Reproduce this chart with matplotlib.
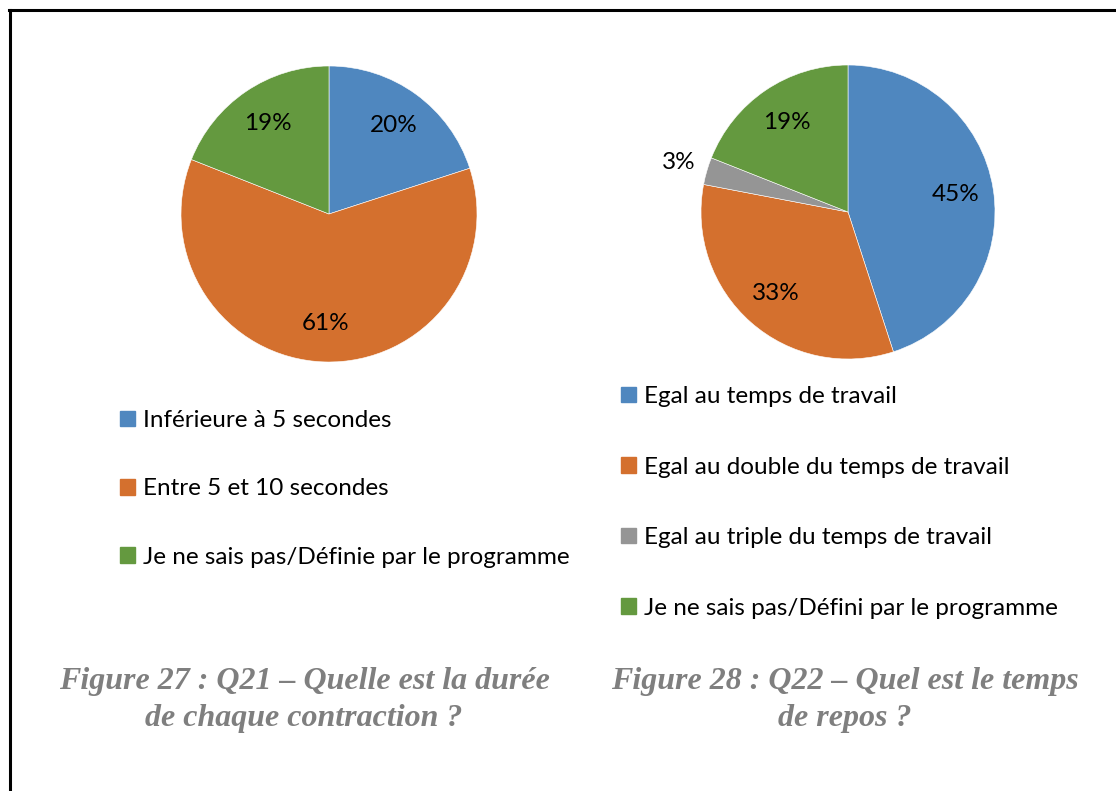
import matplotlib.pyplot as plt
import matplotlib.patches as mpatches
import numpy as np

# Q21 data
q21_labels = [
    "Inférieure à 5 secondes",
    "Entre 5 et 10 secondes",
    "Je ne sais pas/Définie par le programme",
]
q21_values = [20, 61, 19]
q21_colors = ["#4f87bf", "#d4702e", "#64993f"]

# Q22 data
q22_labels = [
    "Egal au temps de travail",
    "Egal au double du temps de travail",
    "Egal au triple du temps de travail",
    "Je ne sais pas/Défini par le programme",
]
q22_values = [45, 33, 3, 19]
q22_colors = ["#4f87bf", "#d4702e", "#959595", "#64993f"]

captions = [
    "Figure 27 : Q21 – Quelle est la durée\nde chaque contraction ?",
    "Figure 28 : Q22 – Quel est le temps\nde repos ?",
]

W, H = 1116, 791
fig = plt.figure(figsize=(W / 100, H / 100), dpi=100)
plt.rcParams["font.family"] = ["Lato", "DejaVu Sans"]

FS = 17.5


def pie_axes(cx, cy, r):
    # position an axes so the pie of radius 1 has the given pixel centre/radius
    ax = fig.add_axes([(cx - r) / W, (H - cy - r) / H, 2 * r / W, 2 * r / H])
    return ax


def draw_pie(ax, values, colors, outside=()):
    wedges, _, autotexts = ax.pie(
        values,
        colors=colors,
        startangle=90,
        counterclock=False,
        autopct="%1.0f%%",
        pctdistance=0.74,
        radius=1,
        wedgeprops=dict(linewidth=0.4, edgecolor="white"),
        textprops=dict(fontsize=FS, color="black"),
    )
    for i in outside:
        w = wedges[i]
        ang = np.deg2rad((w.theta1 + w.theta2) / 2)
        autotexts[i].set_position((1.2 * np.cos(ang), 1.2 * np.sin(ang)))
    ax.set_xlim(-1, 1)
    ax.set_ylim(-1, 1)
    ax.set_aspect("equal")
    ax.axis("off")
    return wedges


ax1 = pie_axes(329, 214, 148)
w1 = draw_pie(ax1, q21_values, q21_colors)

ax2 = pie_axes(848, 212, 147)
w2 = draw_pie(ax2, q22_values, q22_colors, outside=(2,))


def make_legend(labels, colors, x, y, spacing):
    handles = [mpatches.Patch(color=c, label=l) for l, c in zip(labels, colors)]
    fig.legend(
        handles=handles,
        loc="upper left",
        bbox_to_anchor=(x / W, 1 - y / H),
        frameon=False,
        fontsize=FS,
        handlelength=0.62,
        handleheight=0.62,
        handletextpad=0.33,
        labelspacing=spacing,
        borderpad=0,
        borderaxespad=0,
    )


make_legend(q21_labels, q21_colors, 120, 410, 1.95)
make_legend(q22_labels, q22_colors, 621, 386, 2.04)

# captions
for txt, cx in zip(captions, [304, 845]):
    fig.text(
        cx / W,
        1 - 700 / H,
        txt,
        ha="center",
        va="center",
        fontsize=23,
        color="#7f7f7f",
        family="Liberation Serif",
        weight="bold",
        style="italic",
        linespacing=1.38,
    )

# frame lines (left and top only)
fig.add_artist(plt.Line2D([10 / W, 10 / W], [0, 1 - 10 / H], color="black", lw=2.2, transform=fig.transFigure))
fig.add_artist(plt.Line2D([9 / W, 1], [1 - 10 / H, 1 - 10 / H], color="black", lw=2.2, transform=fig.transFigure))

fig.savefig("out.png", dpi=100)
